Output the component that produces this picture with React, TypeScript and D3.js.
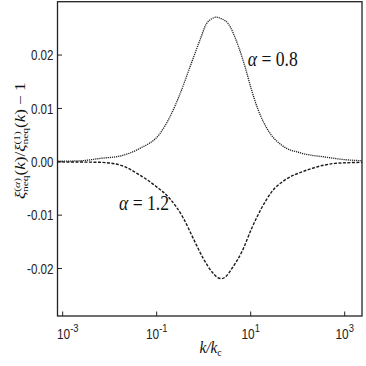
import React from "react";
import * as d3 from "d3";

// alpha = 0.8 curve (dotted): log10(k/kc) and value
const logK08 = [-3.11, -2.6, -2.2, -1.78, -1.36, -0.93, -0.72, -0.5, -0.29, -0.08, 0.06, 0.17, 0.27, 0.38, 0.52, 0.74, 0.88, 1.02, 1.16, 1.37, 1.66, 2.09, 2.58, 3.0, 3.37];
const val08 = [0.0001, 0.0002, 0.00064, 0.00107, 0.0025, 0.0053, 0.0084, 0.0128, 0.0178, 0.0228, 0.0259, 0.0268, 0.0271, 0.0268, 0.0259, 0.0216, 0.0178, 0.0134, 0.0097, 0.0059, 0.0031, 0.0016, 0.0009, 0.0004, 0.0002];

// alpha = 1.2 curve (dashed)
const logK12 = [-3.11, -2.6, -2.21, -1.78, -1.36, -1.0, -0.72, -0.43, -0.22, -0.01, 0.2, 0.3, 0.38, 0.46, 0.6, 0.81, 1.02, 1.23, 1.45, 1.73, 2.09, 2.58, 2.79, 3.37];
const val12 = [-0.00002, -0.00005, -0.0001, -0.0006, -0.0025, -0.0047, -0.0069, -0.0106, -0.0144, -0.0181, -0.0209, -0.0217, -0.0219, -0.0216, -0.02, -0.0169, -0.0125, -0.0087, -0.0056, -0.0034, -0.0019, -0.0006, -0.0003, -0.0001];

const yTicks = [0.02, 0.01, 0, -0.01, -0.02];
const yTickLabels = ["0.02", "0.01", "0.00", "-0.01", "-0.02"];
const xTickExps = [-3, -1, 1, 3];

// label anchors (log10 k, value at baseline)
const labels = [
  { text: "0.8", logK: 0.94, val: 0.0179 },
  { text: "1.2", logK: -1.8, val: -0.00906 },
];

const W = 366;
const H = 366;
const left = 57.5;
const right = 362;
const top = 1.7;
const bottom = 316;

const serif = "'Liberation Serif', 'Times New Roman', serif";
const sans = "'Liberation Sans', Arial, sans-serif";

export default function App() {
  const x = d3.scaleLog().domain([Math.pow(10, -3.11), Math.pow(10, 3.368)]).range([left, right]);
  const y = d3.scaleLinear().domain([-0.0289, 0.03]).range([bottom, top]);

  const line = d3
    .line<[number, number]>()
    .x((d) => x(Math.pow(10, d[0])))
    .y((d) => y(d[1]))
    .curve(d3.curveMonotoneX);

  const pts08 = logK08.map((l, i) => [l, val08[i]] as [number, number]);
  const pts12 = logK12.map((l, i) => [l, val12[i]] as [number, number]);

  return (
    <svg
      width={W}
      height={H}
      style={{ position: "absolute", left: 0, top: 0, background: "#fff" }}
    >
      <defs>
        <clipPath id="plot">
          <rect x={left} y={top} width={right - left} height={bottom - top} />
        </clipPath>
      </defs>

      <g clipPath="url(#plot)">
        <path d={line(pts08) || ""} fill="none" stroke="#222" strokeWidth={1.3} strokeDasharray="1.2,0.9" />
        <path d={line(pts12) || ""} fill="none" stroke="#1a1a1a" strokeWidth={1.4} strokeDasharray="3,1.5" />
      </g>

      {/* frame */}
      <rect x={left} y={top} width={right - left} height={bottom - top} fill="none" stroke="#222" strokeWidth={1.3} />

      {/* y ticks */}
      {yTicks.map((t, i) => (
        <g key={"y" + i}>
          <line x1={left} x2={left + 4.5} y1={y(t)} y2={y(t)} stroke="#222" strokeWidth={1} />
          <text
            transform={`translate(${left - 4},${y(t) + 5.3}) scale(0.8,1)`}
            textAnchor="end"
            fontFamily={sans}
            fontSize={14.5}
            fill="#222"
          >
            {yTickLabels[i]}
          </text>
        </g>
      ))}

      {/* x ticks */}
      {xTickExps.map((e) => (
        <g key={"x" + e}>
          <line x1={x(Math.pow(10, e))} x2={x(Math.pow(10, e))} y1={bottom} y2={bottom - 4.5} stroke="#222" strokeWidth={1} />
          <text
            transform={`translate(${x(Math.pow(10, e)) + (e === -3 ? 5 : 0)},339.3) scale(0.85,1)`}
            textAnchor="middle"
            fontFamily={sans}
            fontSize={14}
            fill="#222"
          >
            10
            <tspan dy={-7.6} fontSize={11}>
              {e < 0 ? "-" + Math.abs(e) : String(e)}
            </tspan>
          </text>
        </g>
      ))}

      {/* curve labels */}
      {labels.map((lb) => (
        <text
          key={lb.text}
          transform={`translate(${x(Math.pow(10, lb.logK))},${y(lb.val)}) scale(0.8,1)`}
          fontFamily={serif}
          fontSize={22}
          fill="#111"
        >
          <tspan fontStyle="italic">α</tspan>
          {" = " + lb.text}
        </text>
      ))}

      {/* x label */}
      <text
        transform={`translate(210.5,353) scale(0.9,1)`}
        textAnchor="middle"
        fontFamily={serif}
        fontStyle="italic"
        fontSize={17}
        fill="#111"
      >
        k/k
        <tspan dy={3} fontSize={11} fontStyle="normal">c</tspan>
      </text>

      {/* y label, reads bottom to top */}
      <text
        transform={`translate(24.5,199) rotate(-90) scale(1,0.8)`}
        textAnchor="start"
        fontFamily={serif}
        fontSize={17}
        fill="#111"
      >
        <tspan fontStyle="italic">ξ</tspan>
        <tspan dy={-6} fontSize={11.5}>(<tspan fontStyle="italic">α</tspan>)</tspan>
        <tspan dx={-14} dy={10.5} fontSize={11.5}>neq</tspan>
        <tspan dy={-4.5}>(<tspan fontStyle="italic">k</tspan>)/</tspan>
        <tspan fontStyle="italic">ξ</tspan>
        <tspan dy={-6} fontSize={11.5}>(1)</tspan>
        <tspan dx={-13.4} dy={10.5} fontSize={11.5}>neq</tspan>
        <tspan dy={-4.5}>(<tspan fontStyle="italic">k</tspan>) − 1</tspan>
      </text>
    </svg>
  );
}
